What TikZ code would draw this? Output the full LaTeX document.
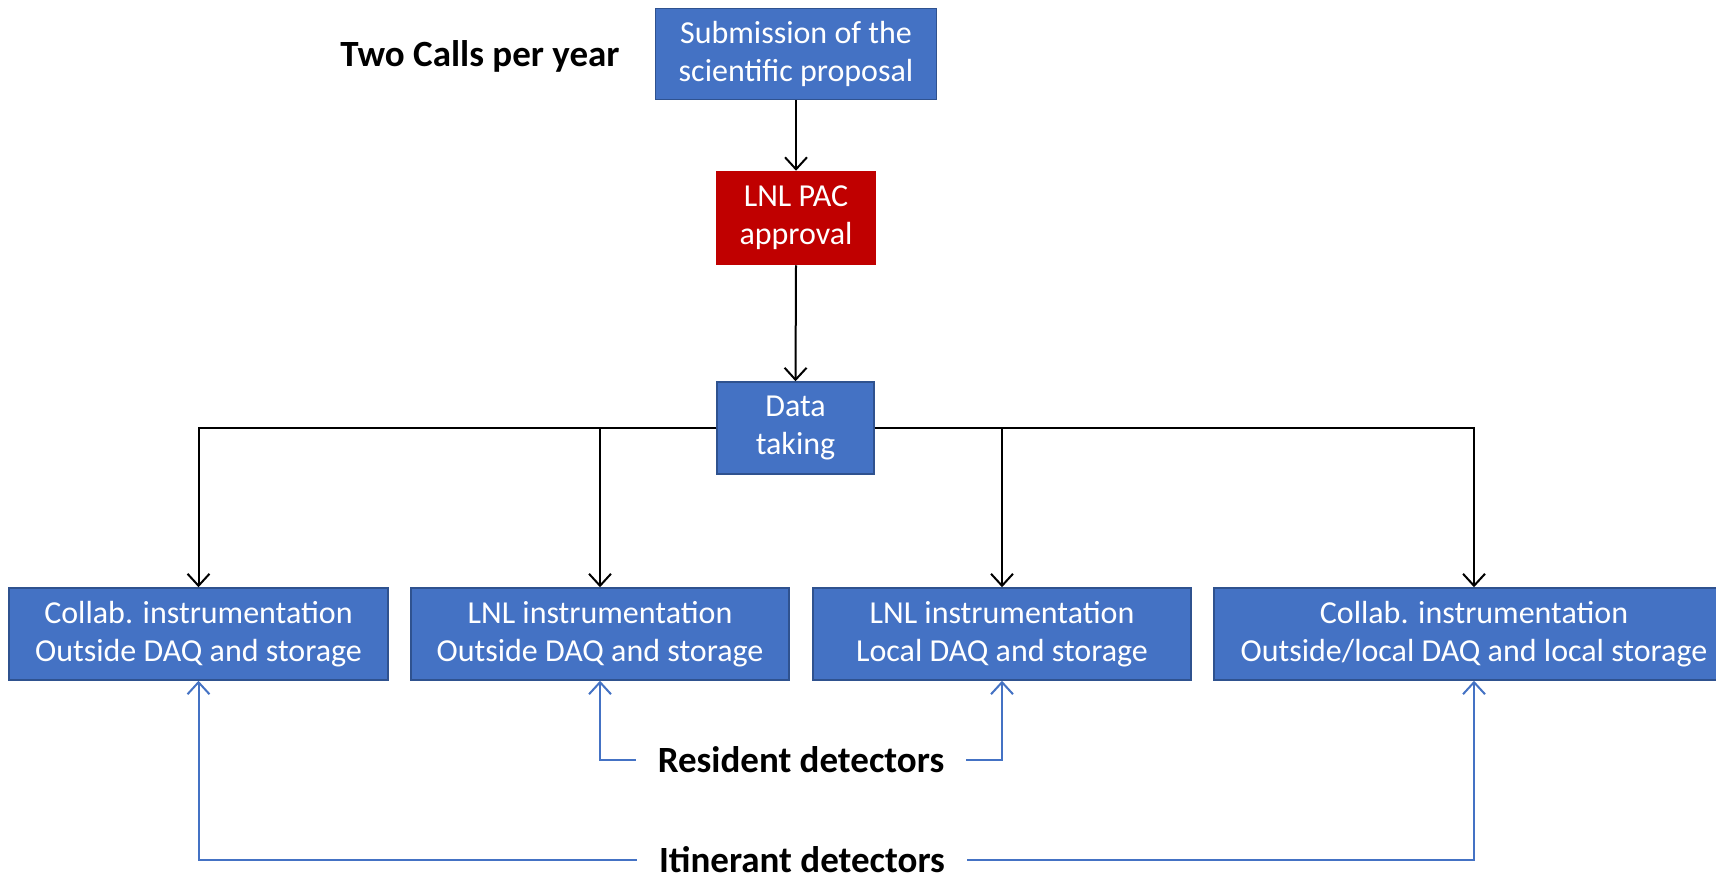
\documentclass[tikz,border=0pt]{standalone}
\usepackage{fontspec}
\setmainfont{Carlito}
\usetikzlibrary{arrows.meta}
\definecolor{boxblue}{HTML}{4472C4}
\definecolor{boxedge}{HTML}{2F528F}
\definecolor{boxred}{HTML}{C00000}
\definecolor{lineblue}{HTML}{4472C4}
\begin{document}
\begin{tikzpicture}[x=1pt,y=-1pt,
  box/.style={draw=boxedge, line width=1.5pt, fill=boxblue, text=white,
    font=\fontsize{32}{38}\selectfont, align=center, inner sep=0pt},
  redbox/.style={box, draw=boxred, fill=boxred},
  flow/.style={draw=black, line width=2pt, -{Straight Barb[length=12pt,width=22pt,line width=2pt]}},
  det/.style={draw=lineblue, line width=2pt, -{Straight Barb[length=12pt,width=22pt,line width=2pt]}},
  lbl/.style={font=\fontsize{37}{40}\selectfont\bfseries, inner xsep=22pt, inner ysep=0pt,
    text height=24pt, text depth=0pt}]
\useasboundingbox (0,0) rectangle (1716,875);
\fill[white] (0,0) rectangle (1716,875);

\node[box, minimum width=281pt, minimum height=91pt] (sub) at (796,54) {Submission of the\\scientific proposal};
\node[redbox, minimum width=158pt, minimum height=93pt] (pac) at (796,218) {LNL PAC\\approval};
\node[box, minimum width=157pt, minimum height=92pt] (data) at (795.5,428) {Data\\taking};

\node[box, minimum width=379pt, minimum height=92pt] (c1) at (198.5,634) {Collab. instrumentation\\Outside DAQ and storage};
\node[box, minimum width=378pt, minimum height=92pt] (c2) at (600,634) {LNL instrumentation\\Outside DAQ and storage};
\node[box, minimum width=378pt, minimum height=92pt] (c3) at (1002,634) {LNL instrumentation\\Local DAQ and storage};
\node[box, minimum width=520pt, minimum height=92pt] (c4) at (1474,634) {Collab. instrumentation\\Outside/local DAQ and local storage};

\node[font=\fontsize{37}{40}\selectfont\bfseries] (calls) at (480,56) {Two Calls per year};

\node[lbl] (res) at (801,760) {Resident detectors};
\node[lbl] (itin) at (802,860) {Itinerant detectors};

\draw[flow] (sub.south) -- (pac.north);
\draw[flow] (pac.south) -- (data.north);
\draw[flow] (data.west) -| (c1.north);
\draw[flow] (data.west) -| (c2.north);
\draw[flow] (data.east) -| (c3.north);
\draw[flow] (data.east) -| (c4.north);

\draw[det] (res.west) -| (c2.south);
\draw[det] (res.east) -| (c3.south);
\draw[det] (itin.west) -| (c1.south);
\draw[det] (itin.east) -| (c4.south);
\end{tikzpicture}
\end{document}
